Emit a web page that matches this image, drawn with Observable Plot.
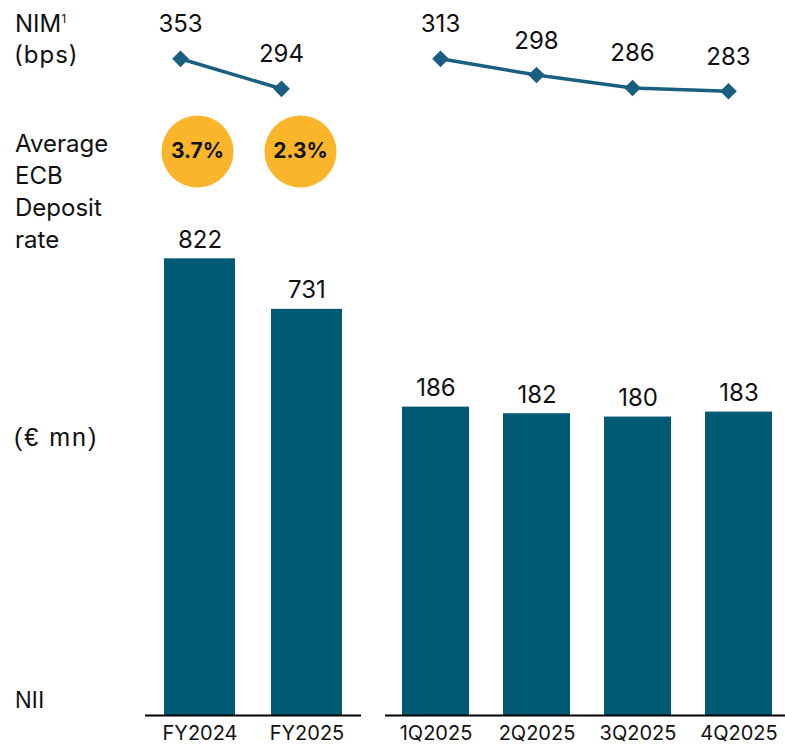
<!DOCTYPE html>
<html>
<head>
<meta charset="utf-8">
<script src="https://cdn.jsdelivr.net/npm/d3@7"></script>
<script src="https://cdn.jsdelivr.net/npm/@observablehq/plot@0.6"></script>
<style>
  html, body { margin: 0; padding: 0; background: #fff; overflow: hidden; }
  #chart { position: relative; width: 785px; height: 745px; overflow: hidden; }
  #chart svg { position: absolute; left: 0; top: 0; background: transparent; max-width: none; }
</style>
</head>
<body>
<div id="chart"></div>
<script>
// ---- data ----
const fyYears = ["FY2024", "FY2025"];
const fyNII = [822, 731];
const fyNIM = [353, 294];
const fyECB = ["3.7%", "2.3%"];

const quarters = ["1Q2025", "2Q2025", "3Q2025", "4Q2025"];
const qNII = [186, 182, 180, 183];
const qNIM = [313, 298, 286, 283];

const rowLabels = {
  nim: ["NIM", "(bps)"],
  ecb: ["Average", "ECB", "Deposit", "rate"],
  unit: "(€ mn)",
  nii: "NII"
};

// ---- styles ----
const BAR = "#005a73";
const LINE = "#1a5e80";
const GOLD = "#fbb52b";
const FONT = "Inter, 'DejaVu Sans', sans-serif";
const ARIAL = "'Liberation Sans', Arial, sans-serif";

const fy = fyYears.map((k, i) => ({key: k, nii: fyNII[i], nim: fyNIM[i], ecb: fyECB[i]}));
const qs = quarters.map((k, i) => ({key: k, nii: qNII[i], nim: qNIM[i]}));

const chart = document.getElementById("chart");
const add = (el) => chart.appendChild(el);

// ---- left-hand row labels ----
const lbl = d3.create("svg").attr("width", 785).attr("height", 745)
  .style("font-family", FONT).style("font-size", "24px").attr("fill", "#111");
const nimT = lbl.append("text").attr("x", 15).attr("y", 31.7);
nimT.append("tspan").text(rowLabels.nim[0]);
nimT.append("tspan").attr("font-size", 12).attr("dy", -9).text("1");
lbl.append("text").attr("x", 14).attr("y", 62.5).attr("letter-spacing", 1).text(rowLabels.nim[1]);
rowLabels.ecb.forEach((t, i) => lbl.append("text").attr("x", 15).attr("y", 151.7 + i * 32.2).text(t));
lbl.append("text").attr("x", 14).attr("y", 446).style("font-family", ARIAL).style("font-size", "25px")
  .attr("letter-spacing", 2).text(rowLabels.unit);
lbl.append("text").attr("x", 15).attr("y", 708.3).style("font-family", ARIAL).style("font-size", "23px").text(rowLabels.nii);
add(lbl.node());

// ---- NIM line, FY ----
add(Plot.plot({
  width: 785, height: 120,
  marginTop: 58.3, marginBottom: 120 - 88.3, marginLeft: 180, marginRight: 785 - 281,
  style: {background: "transparent", fontFamily: FONT},
  x: {type: "point", domain: fyYears, padding: 0, axis: null},
  y: {domain: d3.extent(fyNIM), axis: null},
  marks: [
    Plot.line(fy, {x: "key", y: "nim", stroke: LINE, strokeWidth: 3.5}),
    Plot.dot(fy, {x: "key", y: "nim", symbol: "diamond2", r: 7.5, fill: LINE, stroke: "none"}),
    Plot.text(fy, {x: "key", y: "nim", text: d => String(d.nim), lineAnchor: "bottom", dy: -26.5, fontSize: 24, fill: "#111"})
  ]
}));

// ---- NIM line, quarters ----
add(Plot.plot({
  width: 785, height: 120,
  marginTop: 58.3, marginBottom: 120 - 90.7, marginLeft: 439.3, marginRight: 785 - 729.3,
  style: {background: "transparent", fontFamily: FONT},
  x: {type: "point", domain: quarters, padding: 0, axis: null},
  y: {domain: d3.extent(qNIM), axis: null},
  marks: [
    Plot.line(qs, {x: "key", y: "nim", stroke: LINE, strokeWidth: 3.5}),
    Plot.dot(qs, {x: "key", y: "nim", symbol: "diamond2", r: 7.5, fill: LINE, stroke: "none"}),
    Plot.text(qs, {x: "key", y: "nim", text: d => String(d.nim), lineAnchor: "bottom", dy: -26.5, fontSize: 24, fill: "#111"})
  ]
}));

// ---- ECB deposit rate circles ----
add(Plot.plot({
  width: 785, height: 302,
  marginTop: 0, marginBottom: 0, marginLeft: 197, marginRight: 785 - 300,
  style: {background: "transparent", fontFamily: FONT},
  x: {type: "point", domain: fyYears, padding: 0, axis: null},
  marks: [
    Plot.dot(fy, {x: "key", r: 36, fill: GOLD, stroke: "none"}),
    Plot.text(fy, {x: "key", text: "ecb", fontSize: 21, fontWeight: 700, fill: "#111"})
  ]
}));

// ---- NII bars, FY ----
add(Plot.plot({
  width: 785, height: 745,
  marginTop: 258.3, marginBottom: 30, marginLeft: 145, marginRight: 785 - 361,
  style: {background: "transparent", fontFamily: FONT, fontSize: "20px", color: "#111"},
  x: {type: "band", domain: fyYears, paddingInner: 0.334, paddingOuter: 0.17, label: null},
  y: {domain: [0, d3.max(fyNII)], axis: null},
  marks: [
    Plot.barY(fy, {x: "key", y: "nii", fill: BAR}),
    Plot.ruleY([0], {stroke: "#000", strokeWidth: 2}),
    Plot.text(fy, {x: "key", y: "nii", text: d => String(d.nii), lineAnchor: "bottom", dy: -11, fontSize: 24, fill: "#111"}),
    Plot.axisX({tickSize: 0, tickPadding: 10, fontSize: 20, label: null})
  ]
}));

// ---- NII bars, quarters ----
add(Plot.plot({
  width: 790, height: 745,
  marginTop: 715 - 186 * 1.658, marginBottom: 30, marginLeft: 385, marginRight: 2,
  style: {background: "transparent", fontFamily: FONT, fontSize: "20px", color: "#111"},
  x: {type: "band", domain: quarters, paddingInner: 0.34, paddingOuter: 0.158, label: null},
  y: {domain: [0, d3.max(qNII)], axis: null},
  marks: [
    Plot.barY(qs, {x: "key", y: "nii", fill: BAR}),
    Plot.ruleY([0], {stroke: "#000", strokeWidth: 2}),
    Plot.text(qs, {x: "key", y: "nii", text: d => String(d.nii), lineAnchor: "bottom", dy: -11, fontSize: 24, fill: "#111"}),
    Plot.axisX({tickSize: 0, tickPadding: 10, fontSize: 20, label: null})
  ]
}));
</script>
</body>
</html>
